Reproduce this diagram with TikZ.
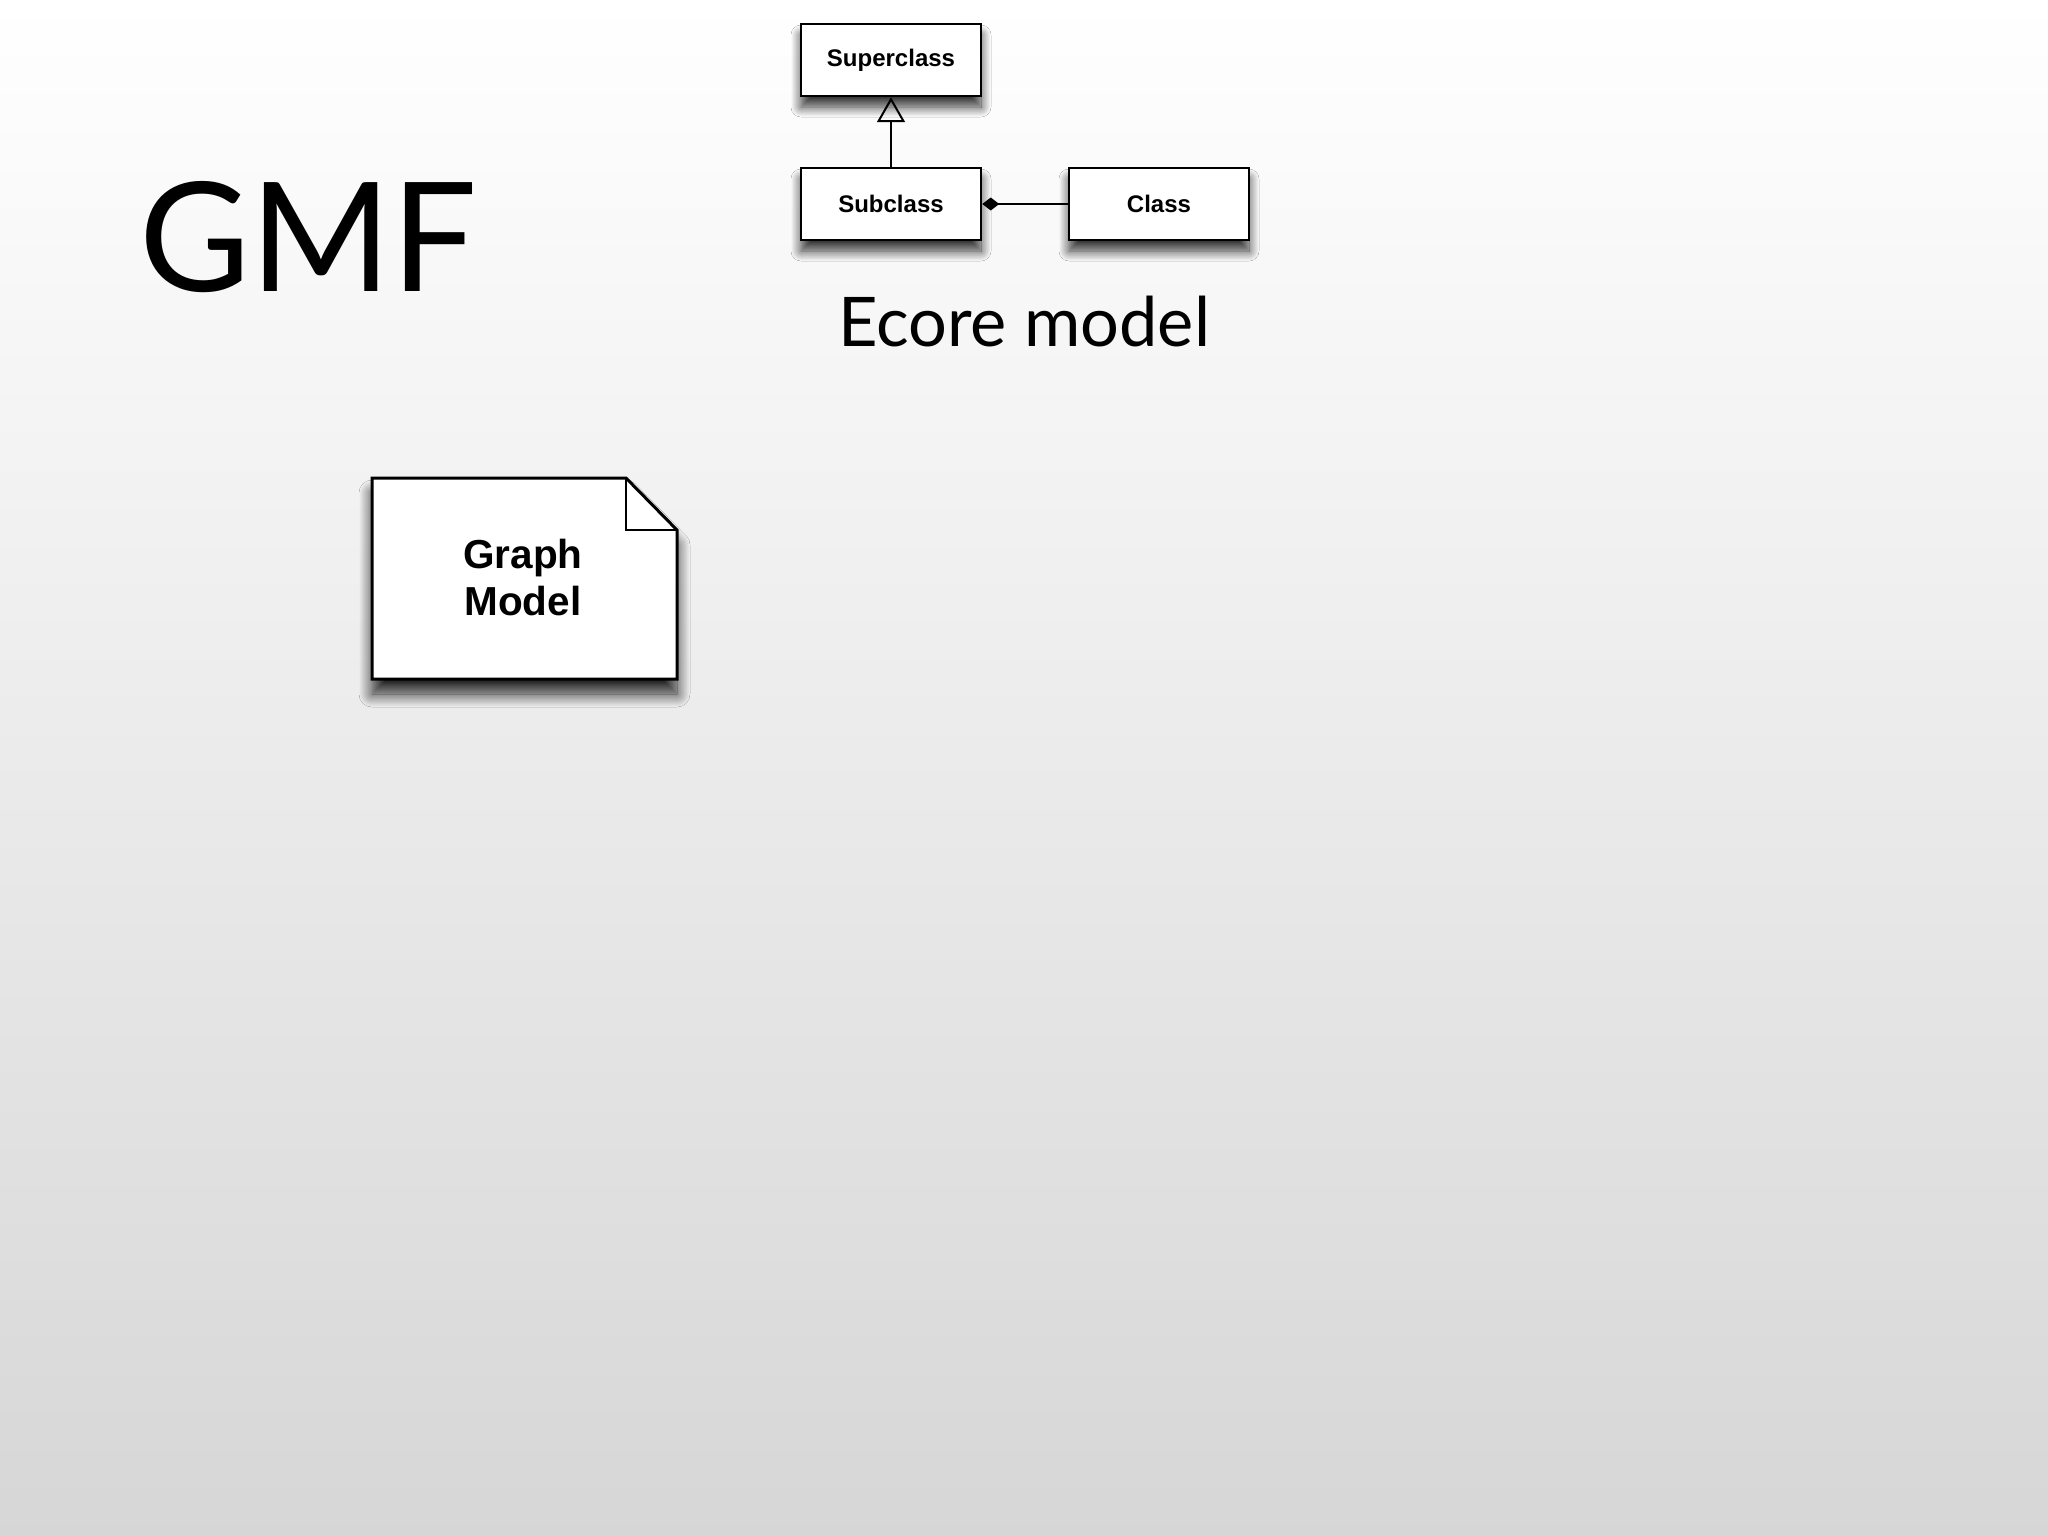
\documentclass[tikz,border=0pt]{standalone}
\usepackage{fontspec}
\setmainfont{Lato}
\newfontfamily\boxfont{Liberation Sans}
\usetikzlibrary{arrows.meta,shadows.blur}
\tikzset{
  cls/.style={draw=black, fill=white, line width=2.5pt, minimum width=180pt, minimum height=72pt,
    inner sep=0pt, font=\boxfont\bfseries\fontsize{24}{27}\selectfont,
    blur shadow={shadow xshift=0pt, shadow yshift=-11pt, shadow blur radius=10pt, shadow blur steps=14, shadow opacity=80}},
  conn/.style={line width=2pt, draw=black},
}
\begin{document}
\begin{tikzpicture}[x=1pt,y=-1pt]
\useasboundingbox (0,0) rectangle (2048,1536);
\shade[top color=white, bottom color=black!16] (0,0) rectangle (2048,1536);
% title
\node[anchor=base west, inner sep=0pt, font=\fontsize{152}{160}\selectfont] (title) at (139,291) {GMF};
% Ecore diagram
\node[cls] (sup) at (891,60) {Superclass};
\node[cls] (sub) at (891,204) {Subclass};
\node[cls] (cls) at (1159,204) {Class};
\draw[conn, -{Triangle[open, length=25pt, width=28pt, line width=2pt]}] (sub.north) -- (sup.south);
\draw[conn, {Diamond[length=17pt, width=13pt]}-] (sub.east) -- (cls.west);
\node[anchor=base west, inner sep=0pt, font=\fontsize{68.5}{72}\selectfont] (ecore) at (838,346) {Ecore model};
% Graph model document
\path[fill=white, blur shadow={shadow xshift=0pt, shadow yshift=-15pt, shadow blur radius=13pt, shadow blur steps=16, shadow opacity=85}]
  (372,478) -- (626,478) -- (677,530) -- (677,679) -- (372,679) -- cycle;
\draw[line width=3pt, line join=miter, fill=white]
  (372,478) -- (626,478) -- (677,530) -- (677,679) -- (372,679) -- cycle;
\draw[line width=2.5pt] (626,478) -- (626,530) -- (677,530);
\node[align=center, inner sep=0pt, font=\boxfont\bfseries\fontsize{40.5}{47}\selectfont] (gm) at (523,578) {Graph\\Model};
\end{tikzpicture}
\end{document}
